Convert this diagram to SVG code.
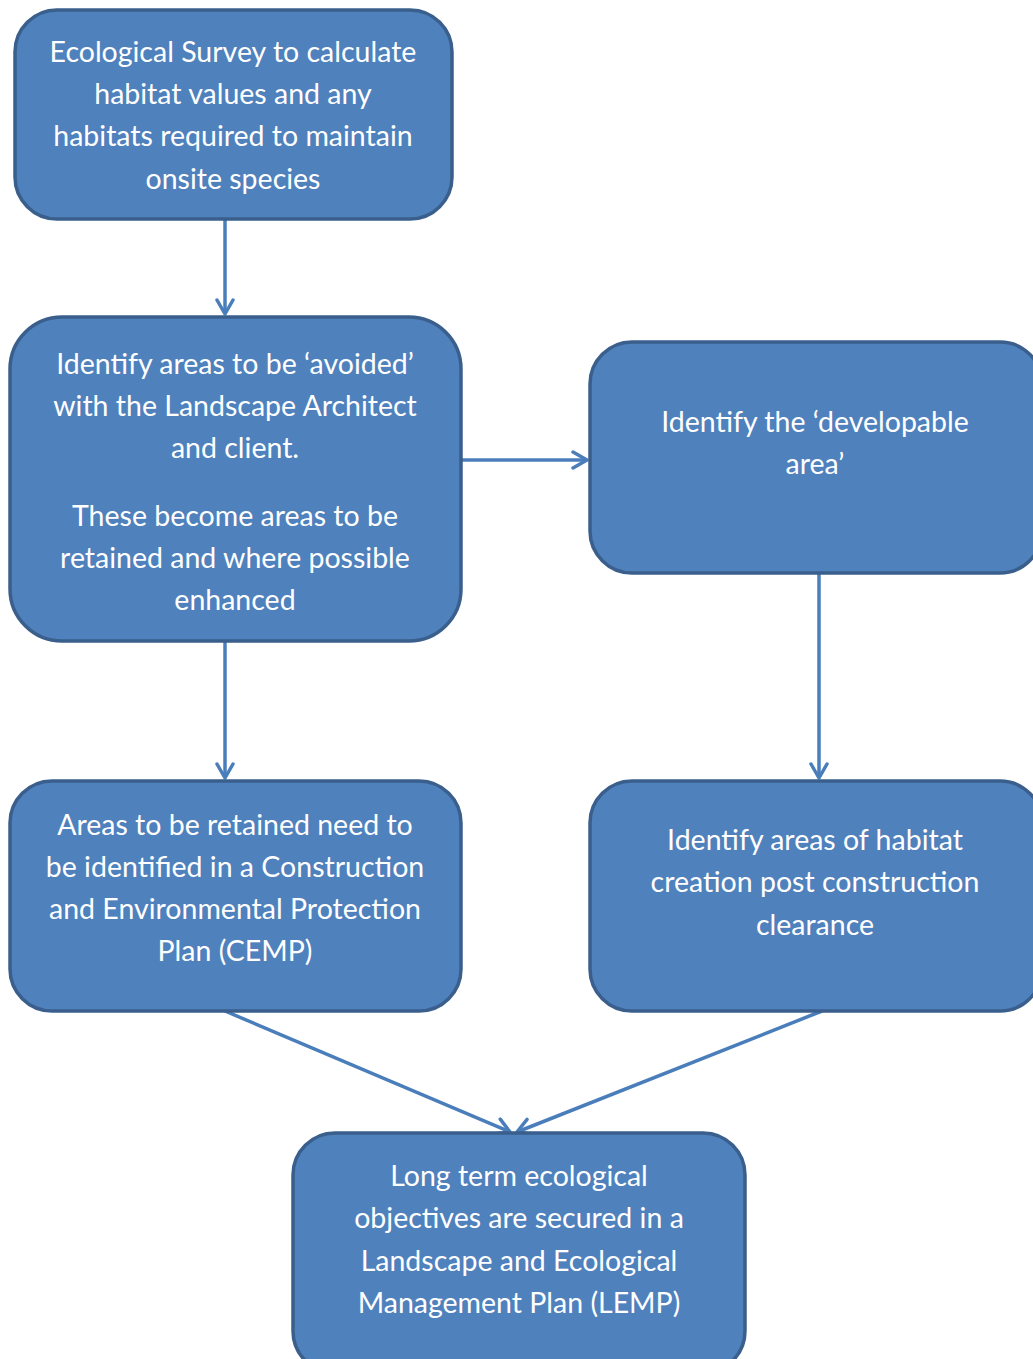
<svg xmlns="http://www.w3.org/2000/svg" width="1033" height="1359" viewBox="0 0 1033 1359">
<defs>
<style>
.box{fill:#4F81BD;stroke:#3A5F8C;stroke-width:3.5}
.t{font-family:Lato,"Liberation Sans",sans-serif;font-size:28.5px;fill:#fff;text-anchor:middle}
.c{stroke:#4A7EBB;stroke-width:3.5;fill:none}
</style>
<marker id="ah" viewBox="0 0 20 20" refX="18" refY="10" markerWidth="20" markerHeight="20" markerUnits="userSpaceOnUse" orient="auto">
<path d="M4,2 L18,10 L4,18" fill="none" stroke="#4A7EBB" stroke-width="3.5" stroke-linecap="round" stroke-linejoin="round"/>
</marker>
</defs>
<rect width="1033" height="1359" fill="#fff"/>
<g id="connectors">
<line class="c" x1="225" y1="219" x2="225" y2="314" marker-end="url(#ah)"/>
<line class="c" x1="461" y1="460" x2="587" y2="460" marker-end="url(#ah)"/>
<line class="c" x1="225" y1="641" x2="225" y2="778" marker-end="url(#ah)"/>
<line class="c" x1="819" y1="573" x2="819" y2="778" marker-end="url(#ah)"/>
<line class="c" x1="225" y1="1011" x2="510" y2="1132" marker-end="url(#ah)"/>
<line class="c" x1="822" y1="1011" x2="517" y2="1132" marker-end="url(#ah)"/>
</g>
<g id="n1">
<rect class="box" x="15" y="10" width="437" height="209" rx="42"/>
<text class="t"><tspan x="233" y="62">Ecological Survey to calculate</tspan><tspan x="233" y="104">habitat values and any</tspan><tspan x="233" y="146">habitats required to maintain</tspan><tspan x="233" y="189">onsite species</tspan></text>
</g>
<g id="n2">
<rect class="box" x="10" y="317" width="451" height="324" rx="52"/>
<text class="t"><tspan x="235" y="374">Identify areas to be ‘avoided’</tspan><tspan x="235" y="416">with the Landscape Architect</tspan><tspan x="235" y="458">and client.</tspan><tspan x="235" y="526">These become areas to be</tspan><tspan x="235" y="568">retained and where possible</tspan><tspan x="235" y="610">enhanced</tspan></text>
</g>
<g id="n3">
<rect class="box" x="590" y="342" width="452" height="231" rx="42"/>
<text class="t"><tspan x="815" y="432">Identify the ‘developable</tspan><tspan x="815" y="474">area’</tspan></text>
</g>
<g id="n4">
<rect class="box" x="10" y="781" width="451" height="230" rx="42"/>
<text class="t"><tspan x="235" y="835">Areas to be retained need to</tspan><tspan x="235" y="877">be identified in a Construction</tspan><tspan x="235" y="919">and Environmental Protection</tspan><tspan x="235" y="961">Plan (CEMP)</tspan></text>
</g>
<g id="n5">
<rect class="box" x="590" y="781" width="452" height="230" rx="42"/>
<text class="t"><tspan x="815" y="850">Identify areas of habitat</tspan><tspan x="815" y="892">creation post construction</tspan><tspan x="815" y="935">clearance</tspan></text>
</g>
<g id="n6">
<rect class="box" x="293" y="1133" width="452" height="240" rx="42"/>
<text class="t"><tspan x="519" y="1186">Long term ecological</tspan><tspan x="519" y="1228">objectives are secured in a</tspan><tspan x="519" y="1271">Landscape and Ecological</tspan><tspan x="519" y="1313">Management Plan (LEMP)</tspan></text>
</g>
</svg>
